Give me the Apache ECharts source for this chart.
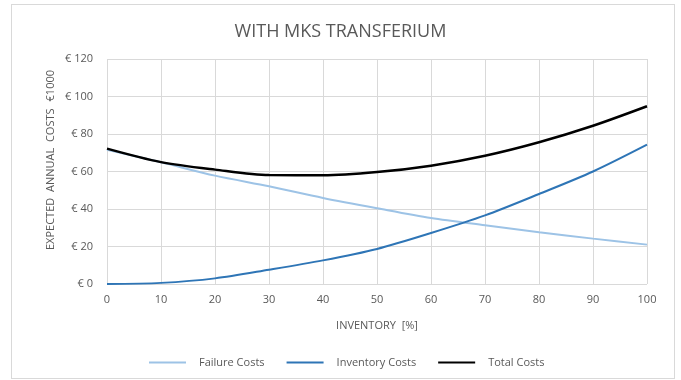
<!DOCTYPE html>
<html>
<head>
<meta charset="utf-8">
<script src="https://cdn.jsdelivr.net/npm/echarts@6/dist/echarts.min.js"></script>
<style>
  html, body { margin: 0; padding: 0; background: #fff; }
  #frame {
    position: absolute; left: 11px; top: 4px; width: 662px; height: 373px;
    border: 1px solid #d9d9d9;
  }
  #chart { position: absolute; left: 0; top: 0; width: 681px; height: 380px; }
</style>
</head>
<body>
<div id="frame"></div>
<div id="chart"></div>
<script>
const inventoryPct = [0, 10, 20, 30, 40, 50, 60, 70, 80, 90, 100]
const failureCosts = [71.6, 64.9, 57.8, 52.1, 45.9, 40.4, 35.2, 31.3, 27.6, 24.2, 21.0]
const inventoryCosts = [0, 0.6, 3.0, 7.6, 12.6, 18.7, 27.2, 36.6, 48.0, 60.0, 74.3]
const totalCosts = [72.2, 65.0, 61.0, 58.1, 58.0, 59.7, 63.1, 68.4, 75.6, 84.4, 94.8]

const pairs = (ys) => inventoryPct.map((x, i) => [x, ys[i]])

const textColor = '#595959'
const gridColor = '#d9d9d9'
const font = 'Open Sans'

const chart = echarts.init(document.getElementById('chart'))
chart.setOption({
  animation: false,
  backgroundColor: 'transparent',
  textStyle: { fontFamily: font },
  title: {
    text: 'WITH MKS TRANSFERIUM',
    left: 'center',
    top: 18,
    textStyle: { color: textColor, fontSize: 18, fontWeight: 'normal', fontFamily: font }
  },
  grid: { left: 107, right: 34, top: 59, bottom: 96 },
  legend: {
    bottom: 7,
    left: 144,
    itemWidth: 37,
    itemHeight: 2,
    itemGap: 22,
    icon: 'rect',
    textStyle: { color: textColor, fontSize: 11, padding: [0, 0, 0, 8] },
    data: ['Failure Costs', 'Inventory Costs', 'Total Costs']
  },
  xAxis: {
    type: 'value',
    min: 0,
    max: 100,
    interval: 10,
    name: 'INVENTORY  [%]',
    nameLocation: 'middle',
    nameGap: 36,
    nameTextStyle: { color: textColor, fontSize: 11 },
    axisLine: { show: false },
    axisTick: { show: false },
    axisLabel: { color: textColor, fontSize: 11, margin: 10 },
    splitLine: { lineStyle: { color: gridColor } }
  },
  yAxis: {
    type: 'value',
    min: 0,
    max: 120,
    interval: 20,
    axisLine: { show: false },
    axisTick: { show: false },
    axisLabel: { color: textColor, fontSize: 11, margin: 14, formatter: (v) => '€ ' + v },
    splitLine: { lineStyle: { color: gridColor } }
  },
  graphic: [
    {
      type: 'text',
      left: 45,
      bottom: 130,
      rotation: Math.PI / 2,
      style: { text: 'EXPECTED  ANNUAL  COSTS', fill: textColor, font: '11px "Open Sans"' }
    },
    {
      type: 'text',
      left: 45,
      top: 70,
      rotation: Math.PI / 2,
      style: { text: '€1000', fill: textColor, font: '11px "Open Sans"' }
    }
  ],
  series: [
    {
      name: 'Failure Costs',
      type: 'line',
      smooth: 0.3,
      symbol: 'none',
      data: pairs(failureCosts),
      color: '#9dc3e6',
      lineStyle: { width: 2, color: '#9dc3e6' }
    },
    {
      name: 'Inventory Costs',
      type: 'line',
      smooth: 0.3,
      symbol: 'none',
      data: pairs(inventoryCosts),
      color: '#2e75b6',
      lineStyle: { width: 2, color: '#2e75b6' }
    },
    {
      name: 'Total Costs',
      type: 'line',
      smooth: 0.3,
      symbol: 'none',
      data: pairs(totalCosts),
      color: '#000000',
      lineStyle: { width: 2.5, color: '#000000' }
    }
  ]
})
</script>
</body>
</html>
